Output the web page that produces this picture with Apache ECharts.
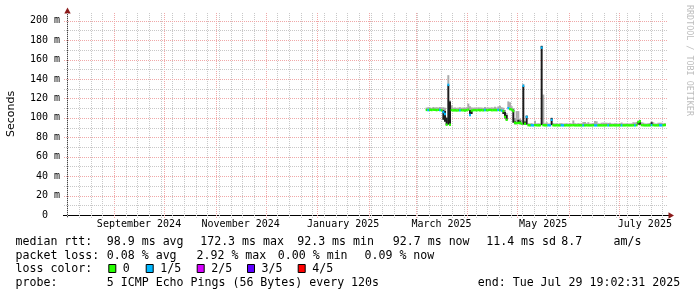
<!DOCTYPE html>
<html><head><meta charset="utf-8">
<script src="https://cdn.jsdelivr.net/npm/echarts@6/dist/echarts.min.js"></script>
<style>html,body{margin:0;padding:0;background:#fff}#c{width:697px;height:297px}</style>
</head><body><div id="c"></div>
<script>
// ---------------- data ----------------
const endTime = '2025-07-29T19:02:31Z';
const rangeDays = 360;
const firstDay = '2025-03-07';   // first daily sample
const median = [
 108.2,108.0,108.3,108.1,108.4,108.2,108.0,108.3,108.1,107.9,
 106.0,104.0,93.0,134.0,93.0,108.0,107.7,107.9,107.6,107.8,
 107.7,107.9,107.8,107.6,107.9,108.5,103.0,107.5,107.9,108.0,
 107.8,108.1,107.9,108.0,107.8,108.1,107.9,108.0,108.2,107.9,
 108.0,108.1,107.9,108.2,108.0,107.5,107.0,101.0,98.0,110.0,
 109.0,108.5,107.0,95.0,94.5,94.8,95.0,94.0,133.0,94.0,
 101.0,92.5,92.4,92.4,92.3,92.5,92.4,92.3,92.4,172.3,
 92.5,92.4,92.3,92.4,92.3,98.0,92.4,92.3,92.4,92.3,
 92.3,92.4,92.3,92.3,92.4,92.3,92.3,92.4,92.5,92.3,
 92.3,92.3,92.4,92.3,92.3,92.3,92.4,92.3,92.3,92.3,
 92.4,92.3,92.3,92.3,92.4,92.3,92.3,92.3,92.4,92.3,
 92.3,92.3,92.4,92.3,92.3,92.3,92.4,92.3,92.3,92.3,
 92.4,92.3,92.3,92.3,92.4,92.3,92.5,95.5,96.5,92.6,
 92.4,92.3,92.3,92.3,92.4,92.6,92.5,92.3,92.3,92.3,
 92.4,92.3,92.4,92.7
];
const loss = [
 0,1,0,0,0,0,0,0,1,0,
 1,1,0,1,0,0,0,0,0,0,
 1,0,0,0,0,0,1,0,0,0,
 0,0,0,0,0,1,0,0,0,0,
 0,0,0,1,0,1,0,0,0,1,
 0,0,0,0,0,0,0,0,1,0,
 1,0,0,1,1,0,0,0,0,1,
 0,0,0,1,1,1,0,0,0,0,
 0,1,1,0,0,0,0,0,0,0,
 0,0,0,0,1,0,0,0,0,0,
 0,1,1,0,0,0,0,0,0,1,
 0,0,0,0,0,0,0,1,0,0,
 0,0,0,0,0,1,0,0,0,0,
 0,0,0,0,0,1,0,0,0,0,
 1,1,0,0
];
const smokeHigh = [
 110.6,111.0,110.8,110.4,111.2,110.6,111.0,110.7,111.3,110.9,
 111.0,110.5,101.0,144.0,118.0,113.0,110.5,110.8,110.4,110.6,
 110.9,110.5,110.7,110.4,111.0,114.7,112.0,110.8,110.6,110.8,
 110.5,110.9,110.6,110.7,110.4,111.2,110.6,110.8,110.5,110.9,
 110.6,111.4,110.7,111.8,112.5,111.0,110.5,108.0,105.0,117.0,
 116.0,112.0,110.0,100.0,107.0,107.0,99.0,98.0,135.0,97.0,
 103.0,94.5,94.2,94.6,94.0,97.0,94.3,94.5,94.2,174.5,
 124.0,94.4,95.5,94.3,94.2,100.0,94.6,94.2,94.5,94.1,
 94.4,94.6,94.2,94.3,94.5,94.2,94.4,94.3,97.4,94.5,
 94.2,94.6,94.3,94.4,95.7,95.7,94.5,95.6,94.2,94.4,
 94.6,96.8,96.5,94.5,94.3,95.0,95.1,94.9,95.0,94.8,
 95.0,94.3,94.2,94.4,94.3,94.2,94.5,95.2,94.3,94.2,
 94.4,94.3,94.2,94.4,95.5,95.2,95.8,97.4,97.4,95.6,
 95.0,94.3,94.2,94.5,94.8,96.5,95.5,94.3,94.2,95.0,
 95.0,95.0,94.4,94.5
];
// dark smoke (wide spread) : day, low, high
const spikes = [
 ['2025-03-17',98,108],['2025-03-18',96,107],['2025-03-19',92.5,100],
 ['2025-03-20',93,134],['2025-03-21',92.5,117],['2025-04-02',102,108],
 ['2025-04-03',104,108],['2025-04-22',104,108],['2025-04-23',99.5,106],
 ['2025-04-24',97.5,103],['2025-04-28',95,108.5],['2025-04-29',93.5,96.5],
 ['2025-05-01',94,98],['2025-05-02',93.5,97],['2025-05-04',93,133],
 ['2025-05-05',93,96],['2025-05-06',93,102],['2025-05-15',92.5,174],
 ['2025-05-21',92.5,100],['2025-07-12',93,96],['2025-07-13',93,97],
 ['2025-07-20',92.5,95.5]
];
const yTicks = [0,20,40,60,80,100,120,140,160,180,200];
const yMinor = [10,30,50,70,90,110,130,150,170,190];
const monthStarts = ['2024-09-01','2024-10-01','2024-11-01','2024-12-01','2025-01-01','2025-02-01',
  '2025-03-01','2025-04-01','2025-05-01','2025-06-01','2025-07-01'];
const labelMonths = [['2024-09-01','2024-10-01'],['2024-11-01','2024-12-01'],['2025-01-01','2025-02-01'],
  ['2025-03-01','2025-04-01'],['2025-05-01','2025-06-01'],['2025-07-01','2025-08-01']];
const labelTexts = ['September 2024','November 2024','January 2025','March 2025','May 2025','July 2025'];
const firstSunday = '2024-08-04';
const lossColors = ['#26ff00','#00b8ff','#d600ff','#5e00ff','#ff0000'];
const lossLabels = ['0','1/5','2/5','3/5','4/5'];

// ---------------- build ----------------
const DAY = 86400000;
const utc = s => Date.parse(s + 'T00:00:00Z');
const END = Date.parse(endTime);
const START = END - rangeDays * DAY;
const t0 = utc(firstDay);
const days = median.map((_, i) => t0 + i * DAY);
const smokeData = median.map((m, i) => [days[i], m, smokeHigh[i]]);
const spikeData = spikes.map(s => [utc(s[0]), s[1], s[2]]);
const medianData = median.map((m, i) => [days[i], m, loss[i]]);
const weekLines = [];
for (let t = utc(firstSunday); t < END; t += 7 * DAY) weekLines.push(t);
const monthLines = monthStarts.map(utc);
const labelPos = labelMonths.map(p => (utc(p[0]) + utc(p[1])) / 2);

const G = {left: 67, top: 13, width: 600, height: 202};
const MAJOR = '#f0a8a8';
const MINOR = '#c8c8c8';
const MONO = 'DejaVu Sans Mono';

function band(color) {
  return function (params, api) {
    const t = api.value(0);
    const a = api.coord([t, api.value(2)]);
    const b = api.coord([t + DAY, api.value(1)]);
    return {type: 'rect', shape: {x: a[0], y: a[1], width: b[0] - a[0] + 0.3, height: Math.max(1, b[1] - a[1])},
      style: {fill: color}};
  };
}
function medianItem(params, api) {
  const t = api.value(0), m = api.value(1);
  const a = api.coord([t, m]), b = api.coord([t + DAY, m]);
  return {type: 'rect', shape: {x: a[0], y: a[1] - 1.2, width: b[0] - a[0] + 0.3, height: 2.4},
    style: {fill: lossColors[api.value(2)]}};
}
// grid lines: [value, isVertical, isMajor]
const gridData = [];
weekLines.forEach(t => gridData.push([t, 1, 0]));
monthLines.forEach(t => gridData.push([t, 1, 1]));
yMinor.forEach(v => gridData.push([v, 0, 0]));
yTicks.filter(v => v > 0).forEach(v => gridData.push([v, 0, 1]));
function gridItem(params, api) {
  const cs = params.coordSys;
  const v = api.value(0), vert = api.value(1), major = api.value(2);
  let shape;
  if (vert) {
    const x = Math.round(api.coord([v, 0])[0]) + 0.5;
    shape = {x1: x, y1: cs.y, x2: x, y2: cs.y + cs.height + 3};
  } else {
    const y = Math.round(api.coord([START, v])[1]) + 0.5;
    shape = {x1: cs.x - 3, y1: y, x2: cs.x + cs.width, y2: y};
  }
  return {type: 'line', shape: shape, style: {stroke: major ? MAJOR : MINOR, lineWidth: 1, lineDash: [1, 1]}};
}

const graphic = [];
function txt(s, x, y) {
  graphic.push({type: 'text', x: x, y: y, silent: true,
    style: {text: s, fill: '#000', font: '11.6px "' + MONO + '"', textAlign: 'left', textVerticalAlign: 'middle'}});
}
const r1 = 242, r2 = 255.5, r3 = 269, r4 = 282.5;
[['median rtt:',15.5],['98.9 ms avg',106.8],['172.3 ms max',200.2],['92.3 ms min',297.2],
 ['92.7 ms now',392.8],['11.4 ms sd',486.2],['8.7',561.2],['am/s',613.5]].forEach(p => txt(p[0], p[1], r1));
[['packet loss:',15.5],['0.08 % avg',106.8],['2.92 % max',196.5],['0.00 % min',277.8],['0.09 % now',364.5]]
  .forEach(p => txt(p[0], p[1], r2));
txt('loss color:', 15.5, r3);
const sqX = [108.3, 145.7, 196.7, 247, 297.7];
lossColors.forEach((c, i) => {
  graphic.push({type: 'rect', silent: true, shape: {x: sqX[i] + 0.5, y: 264.5, width: 7, height: 8},
    style: {fill: c, stroke: '#000', lineWidth: 1}});
  txt(lossLabels[i], sqX[i] + 14.5, r3);
});
txt('probe:', 15.5, r4);
txt('5 ICMP Echo Pings (56 Bytes) every 120s', 106.8, r4);
txt('end: Tue Jul 29 19:02:31 2025', 477.8, r4);
// watermark
graphic.push({type: 'text', x: 689, y: 5, rotation: -Math.PI / 2, silent: true,
  style: {text: 'RRDTOOL / TOBI OETIKER', fill: '#bdbdbd', font: '8.4px "' + MONO + '"',
    textAlign: 'left', textVerticalAlign: 'middle'}});
// axis lines and arrows
const xb = G.top + G.height;
graphic.push({type: 'line', silent: true, shape: {x1: 63, y1: xb + 0.5, x2: 669, y2: xb + 0.5}, style: {stroke: '#000', lineWidth: 1}});
graphic.push({type: 'line', silent: true, shape: {x1: G.left + 0.5, y1: 12, x2: G.left + 0.5, y2: xb + 3}, style: {stroke: '#444', lineWidth: 1}});
graphic.push({type: 'polygon', silent: true, shape: {points: [[G.left + 0.5, 7.5], [G.left - 2.7, 13.5], [G.left + 3.7, 13.5]]},
  style: {fill: '#8b1a1a'}});
graphic.push({type: 'polygon', silent: true, shape: {points: [[674, xb + 0.5], [668.5, xb - 2.7], [668.5, xb + 3.7]]},
  style: {fill: '#8b1a1a'}});

const chart = echarts.init(document.getElementById('c'), null, {renderer: 'canvas'});
chart.setOption({
  animation: false,
  backgroundColor: '#fff',
  grid: {left: G.left, top: G.top, width: G.width, height: G.height, containLabel: false, outerBoundsMode: 'none'},
  xAxis: {
    type: 'value', min: START, max: END, scale: true,
    axisLine: {show: false},
    axisTick: {show: false},
    splitLine: {show: false},
    axisLabel: {customValues: labelPos, margin: 4, fontFamily: MONO, fontSize: 10, color: '#000',
      formatter: v => { const i = labelPos.findIndex(p => Math.abs(p - v) < DAY); return i >= 0 ? labelTexts[i] : ''; }}
  },
  yAxis: {
    type: 'value', min: 0, max: 208,
    name: 'Seconds', nameLocation: 'middle', nameGap: 50, nameRotate: 90,
    nameTextStyle: {fontFamily: 'DejaVu Sans', fontSize: 11, color: '#000'},
    axisLine: {show: false},
    axisTick: {show: false},
    splitLine: {show: false},
    axisLabel: {customValues: yTicks, margin: 7, fontFamily: MONO, fontSize: 10, color: '#000',
      formatter: v => v === 0 ? '0  ' : v + ' m'}
  },
  series: [
    {type: 'custom', name: 'grid', data: gridData, z: 1, silent: true, clip: false, renderItem: gridItem},
    {type: 'custom', name: 'smoke', data: smokeData, z: 2, silent: true, encode: {x: 0, y: [1, 2]},
      renderItem: band('#aaaaaa')},
    {type: 'custom', name: 'spread', data: spikeData, z: 3, silent: true, encode: {x: 0, y: [1, 2]},
      renderItem: band('#1c1c1c')},
    {type: 'custom', name: 'median', data: medianData, z: 4, silent: true, encode: {x: 0, y: 1},
      renderItem: medianItem}
  ],
  graphic: graphic
});
</script>
</body></html>
